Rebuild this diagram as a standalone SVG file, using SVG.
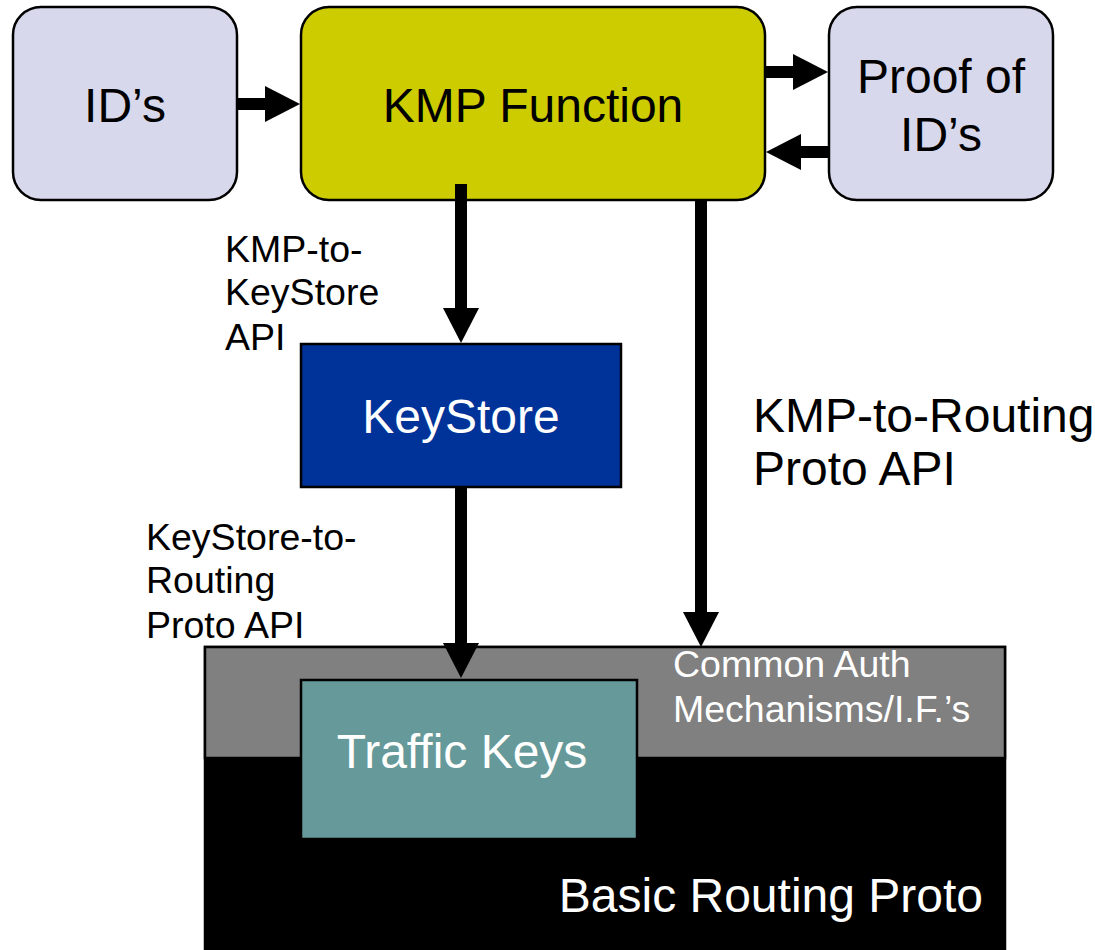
<svg xmlns="http://www.w3.org/2000/svg" width="1095" height="950" viewBox="0 0 1095 950">
<style>
text{font-family:"Liberation Sans",Arial,sans-serif}
.big{font-size:48px}
.small{font-size:37.5px}
.blk{fill:#000}
.wht{fill:#fff}
.node{stroke:#000;stroke-width:2.5}
.conn{stroke:#000;stroke-width:12;fill:none}
</style>
<defs>
<marker id="ah" markerUnits="userSpaceOnUse" markerWidth="36" markerHeight="36" refX="0" refY="18" orient="auto" overflow="visible">
<path d="M0,0 L35,18 L0,36 z" fill="#000"/>
</marker>
</defs>
<rect width="1095" height="950" fill="#fff"/>
<g id="routing">
<rect x="205" y="647" width="800" height="305" fill="#000" class="node"/>
<rect x="205" y="647" width="800" height="111" fill="#808080" class="node"/>
<text x="673" y="677" class="small wht">Common Auth</text>
<text x="673" y="722" class="small wht">Mechanisms/I.F.’s</text>
<text x="983" y="912" class="big wht" text-anchor="end">Basic Routing Proto</text>
</g>
<g id="traffic-keys">
<rect x="301" y="680" width="336" height="159" fill="#669999" class="node"/>
<text x="462" y="768" class="big wht" text-anchor="middle">Traffic Keys</text>
</g>
<g id="ids">
<rect x="13" y="7" width="224" height="193" rx="28" fill="#d8d8ec" class="node"/>
<text x="125" y="122" class="big blk" text-anchor="middle">ID’s</text>
</g>
<g id="kmp">
<rect x="301" y="7" width="464" height="193" rx="28" fill="#cccc00" class="node"/>
<text x="533" y="122" class="big blk" text-anchor="middle">KMP Function</text>
</g>
<g id="proof">
<rect x="829" y="7" width="224" height="193" rx="28" fill="#d8d8ec" class="node"/>
<text x="941" y="93" class="big blk" text-anchor="middle">Proof of</text>
<text x="941" y="151" class="big blk" text-anchor="middle">ID’s</text>
</g>
<g id="keystore">
<rect x="301" y="344" width="320" height="143" fill="#003399" class="node"/>
<text x="461" y="433" class="big wht" text-anchor="middle">KeyStore</text>
</g>
<g id="labels">
<text x="225" y="262" class="small blk">KMP-to-</text>
<text x="225" y="305" class="small blk">KeyStore</text>
<text x="225" y="350" class="small blk">API</text>
<text x="146" y="550" class="small blk">KeyStore-to-</text>
<text x="146" y="593" class="small blk">Routing</text>
<text x="146" y="638" class="small blk">Proto API</text>
<text x="753" y="432" class="big blk">KMP-to-Routing</text>
<text x="753" y="485" class="big blk">Proto API</text>
</g>
<g id="connectors">
<line x1="237" y1="104" x2="265" y2="104" class="conn" marker-end="url(#ah)"/>
<line x1="765" y1="72" x2="793" y2="72" class="conn" marker-end="url(#ah)"/>
<line x1="829" y1="152" x2="801" y2="152" class="conn" marker-end="url(#ah)"/>
<line x1="461" y1="184" x2="461" y2="308" class="conn" marker-end="url(#ah)"/>
<line x1="461" y1="487" x2="461" y2="643" class="conn" marker-end="url(#ah)"/>
<line x1="701" y1="200" x2="701" y2="612" class="conn" marker-end="url(#ah)"/>
</g>
</svg>
